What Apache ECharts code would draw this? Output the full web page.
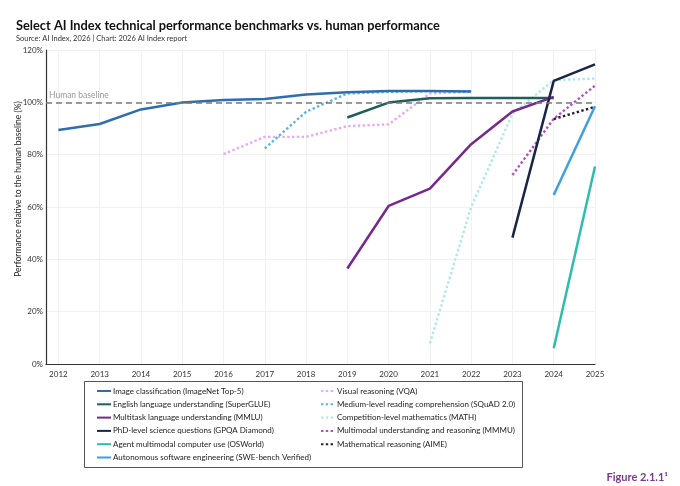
<!DOCTYPE html>
<html>
<head>
<meta charset="utf-8">
<script src="https://cdn.jsdelivr.net/npm/echarts@6/dist/echarts.min.js"></script>
<style>
  html, body { margin: 0; padding: 0; background: #fff; }
  #main { width: 680px; height: 486px; }
</style>
</head>
<body>
<div id="main"></div>
<script>
// years shown on the x axis
const years = [2012, 2013, 2014, 2015, 2016, 2017, 2018, 2019, 2020, 2021, 2022, 2023, 2024, 2025];
const yTicks = [0, 20, 40, 60, 80, 100, 120];

// values (% of human baseline)
const imagenetYears = [2012, 2013, 2014, 2015, 2016, 2017, 2018, 2019, 2020, 2021, 2022];
const imagenet = [89.4, 91.7, 97.3, 99.9, 100.9, 101.3, 103.0, 103.9, 104.3, 104.3, 104.1];
const superglueYears = [2019, 2020, 2021, 2022, 2023, 2024];
const superglue = [94.2, 99.9, 101.6, 101.7, 101.7, 101.7];
const mmluYears = [2019, 2020, 2021, 2022, 2023, 2024];
const mmlu = [36.5, 60.4, 67.0, 84.0, 96.5, 102.1];
const gpqaYears = [2023, 2024, 2025];
const gpqa = [48.3, 108.2, 114.5];
const osworldYears = [2024, 2025];
const osworld = [6.0, 75.5];
const swebenchYears = [2024, 2025];
const swebench = [64.6, 98.5];
const vqaYears = [2016, 2017, 2018, 2019, 2020, 2021, 2022];
const vqa = [80.2, 86.8, 86.8, 90.9, 91.6, 103.4, 104.0];
const squadYears = [2017, 2018, 2019, 2020, 2021, 2022];
const squad = [82.4, 96.4, 103.4, 104.0, 104.3, 104.3];
const mathYears = [2021, 2022, 2023, 2024, 2025];
const math = [7.9, 60.0, 95.6, 108.5, 109.1];
const mmmuYears = [2023, 2024, 2025];
const mmmu = [72.2, 93.7, 106.4];
const aimeYears = [2024, 2025];
const aime = [93.6, 98.3];

const pairs = (xs, ys) => xs.map((x, i) => [x, ys[i]]);

const FONT = 'Lato';

const lineSeries = (name, xs, ys, color, dotted) => ({
    name: name,
    type: 'line',
    data: pairs(xs, ys),
    symbol: 'none',
    showSymbol: false,
    silent: true,
    z: dotted ? 3 : 4,
    lineStyle: {
        color: color,
        width: dotted ? 2.4 : 2.5,
        type: dotted ? [2.4, 2.4] : 'solid'
    },
    itemStyle: { color: color }
});

const series = [
    lineSeries('Image classification (ImageNet Top-5)', imagenetYears, imagenet, '#2e6ead', false),
    lineSeries('English language understanding (SuperGLUE)', superglueYears, superglue, '#1e5f5c', false),
    lineSeries('Multitask language understanding (MMLU)', mmluYears, mmlu, '#76288c', false),
    lineSeries('PhD-level science questions (GPQA Diamond)', gpqaYears, gpqa, '#1a2547', false),
    lineSeries('Agent multimodal computer use (OSWorld)', osworldYears, osworld, '#30bcad', false),
    lineSeries('Autonomous software engineering (SWE-bench Verified)', swebenchYears, swebench, '#3f9fe0', false),
    lineSeries('Visual reasoning (VQA)', vqaYears, vqa, '#eaa8f2', true),
    lineSeries('Medium-level reading comprehension (SQuAD 2.0)', squadYears, squad, '#5bb5dc', true),
    lineSeries('Competition-level mathematics (MATH)', mathYears, math, '#aee6ee', true),
    lineSeries('Multimodal understanding and reasoning (MMMU)', mmmuYears, mmmu, '#b14fc2', true),
    lineSeries('Mathematical reasoning (AIME)', aimeYears, aime, '#2b1a38', true)
];

// human baseline as a markLine on the first series
series[0].markLine = {
    silent: true,
    symbol: ['none', 'none'],
    animation: false,
    lineStyle: { color: '#7a7a7a', width: 1.6, type: [6, 4] },
    label: {
        show: true,
        position: 'insideStartTop',
        formatter: 'Human baseline',
        color: '#999',
        fontFamily: FONT,
        fontSize: 8.5,
        distance: [3, 3]
    },
    data: [{ yAxis: 100 }]
};

const leftNames = series.slice(0, 6).map(s => s.name);
const rightNames = series.slice(6).map(s => s.name);

const legendBase = {
    orient: 'vertical',
    top: 381,
    itemWidth: 14,
    itemHeight: 6,
    itemGap: 3.3,
    // hide the circle that line legends draw in the middle
    itemStyle: { opacity: 0 },
    textStyle: { fontFamily: FONT, fontSize: 8, color: '#222', lineHeight: 10, padding: [0, 0, 0, -3] },
    selectedMode: false
};

const chart = echarts.init(document.getElementById('main'), null, { renderer: 'canvas' });

const option = {
    animation: false,
    backgroundColor: '#fff',
    title: {
        text: 'Select AI Index technical performance benchmarks vs. human performance',
        subtext: 'Source: AI Index, 2026 | Chart: 2026 AI Index report',
        left: 11,
        top: 14,
        itemGap: 3,
        textStyle: { fontFamily: FONT, fontSize: 12.8, fontWeight: 'bold', color: '#111' },
        subtextStyle: { fontFamily: FONT, fontSize: 7.5, color: '#333' }
    },
    grid: { left: 46, right: 85, top: 50, bottom: 122 },
    xAxis: {
        type: 'value',
        min: 2011.7,
        max: 2025,
        axisLine: { show: true, lineStyle: { color: '#333', width: 1.2 } },
        axisTick: { show: false, customValues: years },
        axisLabel: {
            customValues: years,
            fontFamily: FONT, fontSize: 8, color: '#333', margin: 6,
            formatter: v => String(v)
        },
        splitLine: { show: true, lineStyle: { color: '#f1f1f1', width: 1 } }
    },
    yAxis: {
        type: 'value',
        min: yTicks[0],
        max: yTicks[yTicks.length - 1],
        interval: 20,
        axisLine: { show: true, lineStyle: { color: '#333', width: 1.2 } },
        axisTick: { show: false },
        axisLabel: { fontFamily: FONT, fontSize: 8, color: '#333', margin: 3, formatter: '{value}%' },
        splitLine: { show: true, lineStyle: { color: '#f1f1f1', width: 1 } }
    },
    legend: [
        Object.assign({}, legendBase, { left: 91, data: leftNames }),
        Object.assign({}, legendBase, { left: 315, data: rightNames })
    ],
    graphic: [
        {
            type: 'text',
            x: 18, y: 189,
            rotation: Math.PI / 2,
            style: {
                text: 'Performance relative to the human baseline (%)',
                fontFamily: FONT, fontSize: 8.5, fill: '#222',
                align: 'center', verticalAlign: 'middle'
            }
        },
        {
            type: 'rect',
            shape: { x: 84.5, y: 381.5, width: 438, height: 86 },
            style: { fill: 'none', stroke: '#555', lineWidth: 1 },
            z: -1
        },
        {
            type: 'text',
            x: 668, y: 477,
            style: {
                text: 'Figure 2.1.1¹',
                fontFamily: FONT, fontSize: 11, fontWeight: 'bold', fill: '#7a3b8f',
                align: 'right', verticalAlign: 'middle'
            }
        }
    ],
    series: series
};

chart.setOption(option);
</script>
</body>
</html>
